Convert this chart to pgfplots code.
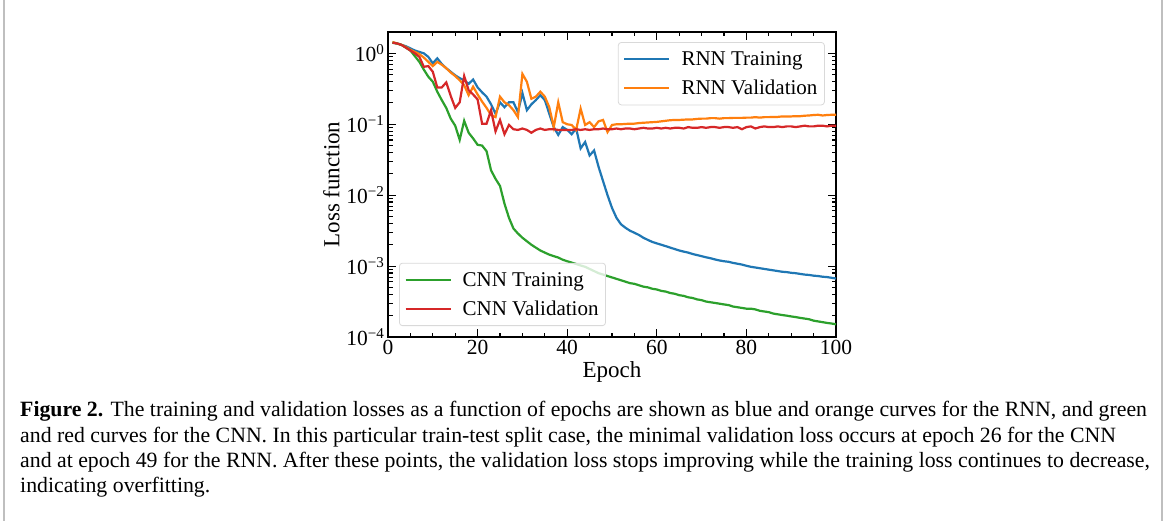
\documentclass[border=0pt]{standalone}
\usepackage{fontspec}
\setmainfont{Liberation Serif}
\usepackage{pgfplots}
\pgfplotsset{compat=1.18}
\usepackage{pgfplotstable}

\definecolor{tabblue}{HTML}{1F77B4}
\definecolor{taborange}{HTML}{FF7F0E}
\definecolor{tabgreen}{HTML}{2CA02C}
\definecolor{tabred}{HTML}{D62728}

% epoch, RNN training, RNN validation, CNN training, CNN validation
\pgfplotstableread{
ep  rt        rv      ct        cv
1   1.413     1.445   1.413     1.413
2   1.380     1.380   1.380     1.380
3   1.318     1.318   1.318     1.318
4   1.259     1.230   1.202     1.202
5   1.175     1.122   1.096     1.096
6   1.096     1.047   0.912     1.000
7   1.047     0.977   0.759     0.891
8   1.000     0.871   0.589     0.646
9   0.891     0.759   0.468     0.661
10  0.724     0.661   0.398     0.550
11  0.851     0.759   0.288     0.331
12  0.708     0.692   0.219     0.331
13  0.617     0.617   0.170     0.389
14  0.550     0.537   0.120     0.251
15  0.490     0.479   0.0955    0.170
16  0.447     0.417   0.0603    0.204
17  0.417     0.355   0.112     0.479
18  0.372     0.257   0.0759    0.302
19  0.427     0.339   0.0631    0.263
20  0.331     0.263   0.0513    0.224
21  0.282     0.209   0.0501    0.102
22  0.245     0.170   0.0417    0.102
23  0.191     0.135   0.0224    0.158
24  0.141     0.126   0.0170    0.0794
25  0.204     0.245   0.0135    0.115
26  0.174     0.204   0.00759   0.0724
27  0.204     0.186   0.00479   0.0977
28  0.204     0.158   0.00339   0.0851
29  0.148     0.126   0.00288   0.0832
30  0.275     0.513   0.00251   0.0871
31  0.158     0.398   0.00224   0.0832
32  0.191     0.229   0.00200   0.0759
33  0.219     0.245   0.00182   0.0832
34  0.257     0.288   0.00166   0.0871
35  0.219     0.245   0.00155   0.0832
36  0.141     0.174   0.00145   0.0851
37  0.0912    0.0912  0.00138   0.0851
38  0.0708    0.204   0.00132   0.0832
39  0.0912    0.107   0.00123   0.0832
40  0.0832    0.100   0.00117   0.0832
41  0.0724    0.0977  0.00112   0.0832
42  0.0871    0.0832  0.00107   0.0851
43  0.0457    0.166   0.00102   0.0832
44  0.0562    0.0977  0.000977  0.0851
45  0.0363    0.107   0.000912  0.0832
46  0.0427    0.0912  0.000851  0.0851
47  0.0251    0.110   0.000794  0.0851
48  0.0158    0.115   0.000759  0.0871
49  0.0100    0.0776  0.000724  0.0851
50  0.00661   0.0977  0.000692  0.0851
51  0.00479   0.100   0.000661  0.0871
52  0.00389   0.100   0.000631  0.0851
53  0.00347   0.101   0.000603  0.0871
54  0.00316   0.102   0.000575  0.0871
55  0.00295   0.102   0.000562  0.0851
56  0.00275   0.104   0.000537  0.0871
57  0.00251   0.105   0.000513  0.0891
58  0.00234   0.106   0.000501  0.0871
59  0.00219   0.107   0.000479  0.0871
60  0.00209   0.108   0.000468  0.0891
61  0.00200   0.110   0.000447  0.0871
62  0.00191   0.112   0.000437  0.0891
63  0.00182   0.114   0.000417  0.0871
64  0.00174   0.115   0.000407  0.0891
65  0.00166   0.115   0.000389  0.0891
66  0.00160   0.116   0.000380  0.0871
67  0.00155   0.117   0.000363  0.0912
68  0.00148   0.117   0.000355  0.0891
69  0.00143   0.119   0.000339  0.0891
70  0.00138   0.120   0.000331  0.0912
71  0.00133   0.120   0.000316  0.0891
72  0.00129   0.122   0.000309  0.0912
73  0.00124   0.122   0.000302  0.0912
74  0.00120   0.120   0.000295  0.0891
75  0.00117   0.122   0.000288  0.0912
76  0.00115   0.122   0.000282  0.0912
77  0.00111   0.123   0.000269  0.0891
78  0.00108   0.123   0.000263  0.0912
79  0.00105   0.123   0.000257  0.0851
80  0.00101   0.124   0.000251  0.0912
81  0.000977  0.124   0.000251  0.0933
82  0.000955  0.126   0.000245  0.0871
83  0.000933  0.124   0.000234  0.0912
84  0.000912  0.126   0.000229  0.0933
85  0.000891  0.126   0.000224  0.0912
86  0.000871  0.127   0.000214  0.0912
87  0.000851  0.127   0.000209  0.0933
88  0.000832  0.129   0.000204  0.0912
89  0.000822  0.129   0.000200  0.0933
90  0.000804  0.129   0.000195  0.0933
91  0.000794  0.130   0.000191  0.0912
92  0.000776  0.130   0.000186  0.0933
93  0.000759  0.132   0.000182  0.0955
94  0.000750  0.133   0.000178  0.0933
95  0.000733  0.135   0.000170  0.0933
96  0.000724  0.136   0.000166  0.0955
97  0.000708  0.133   0.000162  0.0955
98  0.000700  0.135   0.000158  0.0933
99  0.000684  0.136   0.000155  0.0955
100 0.000668  0.136   0.000151  0.0955
}\losstable

\pgfplotsset{
  lossaxis/.style={
    at={(388bp,-337bp)}, anchor=south west,
    scale only axis, width=448bp, height=305bp,
    xmin=0, xmax=100, ymin=1e-4, ymax=2,
  },
  lossleg/.style={
    legend cell align=left,
    legend image code/.code={\draw[##1, line width=2.2bp] (0bp,0bp) -- (45bp,0bp);},
    legend style={draw=black!15, line width=0.8bp, rounded corners=3bp,
      fill=white, fill opacity=0.8, text opacity=1,
      font=\fontsize{21bp}{25bp}\selectfont,
      inner xsep=5bp, inner ysep=7bp, row sep=9bp, column sep=9bp},
  },
}

\begin{document}
\begin{tikzpicture}[x=1bp,y=1bp]
\useasboundingbox (0,0) rectangle (1167,-521);
\fill[white] (0,0) rectangle (1167,-521);
\draw[black!25, line width=1.2bp] (4,0) -- (4,-521);
\draw[black!25, line width=1.2bp] (1162,0) -- (1162,-521);

\begin{axis}[ymode=log, lossaxis, lossleg,
  xtick={0,20,40,60,80,100}, minor x tick num=3,
  ytick={1e-4,1e-3,1e-2,1e-1,1},
  yticklabels={10\textsuperscript{−4},10\textsuperscript{−3},10\textsuperscript{−2},10\textsuperscript{−1},10\textsuperscript{0}},
  minor ytick={2e-4,3e-4,4e-4,5e-4,6e-4,7e-4,8e-4,9e-4,
               2e-3,3e-3,4e-3,5e-3,6e-3,7e-3,8e-3,9e-3,
               2e-2,3e-2,4e-2,5e-2,6e-2,7e-2,8e-2,9e-2,
               2e-1,3e-1,4e-1,5e-1,6e-1,7e-1,8e-1,9e-1,2},
  tick align=inside, xtick pos=both, ytick pos=both,
  major tick length=8bp, minor tick length=4.5bp,
  every tick/.style={black, line width=1.1bp},
  axis line style={line width=1.4bp},
  /pgf/number format/assume math mode=true,
  tick label style={font=\fontsize{21.5bp}{25bp}\selectfont},
  label style={font=\fontsize{23bp}{27bp}\selectfont},
  xlabel={Epoch}, ylabel={Loss function},
  legend style={at={(0.975,0.967)}, anchor=north east},
]
\addplot[tabblue, line width=2.2bp] table[x=ep, y=rt] {\losstable};
\addlegendentry{RNN Training}
\addplot[taborange, line width=2.2bp] table[x=ep, y=rv] {\losstable};
\addlegendentry{RNN Validation}
\end{axis}

\begin{axis}[ymode=log, lossaxis, lossleg, hide axis,
  legend style={at={(0.0246,0.036)}, anchor=south west},
]
\addplot[tabgreen, line width=2.2bp] table[x=ep, y=ct] {\losstable};
\addlegendentry{CNN Training}
\addplot[tabred, line width=2.2bp] table[x=ep, y=cv] {\losstable};
\addlegendentry{CNN Validation}
\end{axis}

\begin{scope}[every node/.style={anchor=base west, inner sep=0pt, font=\fontsize{21.8bp}{26bp}\selectfont}]
\node at (20,-416) {\textbf{Figure 2.} The training and validation losses as a function of epochs are shown as blue and orange curves for the RNN, and green};
\node at (20,-442) {and red curves for the CNN. In this particular train-test split case, the minimal validation loss occurs at epoch 26 for the CNN};
\node at (20,-467) {and at epoch 49 for the RNN. After these points, the validation loss stops improving while the training loss continues to decrease,};
\node at (20,-492) {indicating overfitting.};
\end{scope}
\end{tikzpicture}
\end{document}
